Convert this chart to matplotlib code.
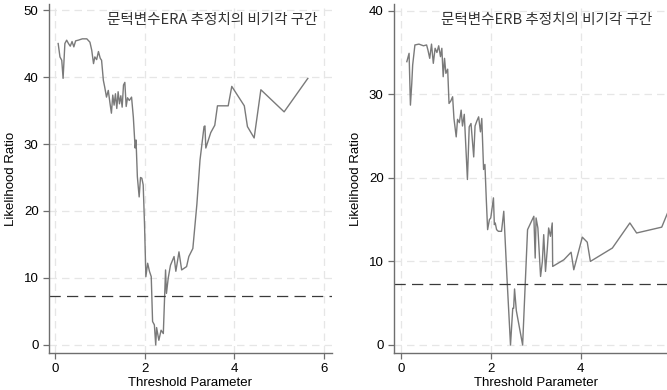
import matplotlib
matplotlib.use("Agg")
from matplotlib import pyplot as plt

plt.rcParams['font.family'] = ['Liberation Sans', 'DejaVu Sans']

# left panel: ERA
era_x = [0.06, 0.10, 0.14, 0.17, 0.21, 0.25, 0.29, 0.33, 0.37, 0.41, 0.45, 0.51,
         0.60, 0.70, 0.77, 0.81, 0.85, 0.88, 0.92, 0.96, 1.00, 1.03, 1.07, 1.10,
         1.14, 1.18, 1.22, 1.25, 1.28, 1.31, 1.34, 1.37, 1.40, 1.43, 1.46, 1.49,
         1.52, 1.55, 1.58, 1.61, 1.65, 1.70, 1.74, 1.78, 1.80, 1.83, 1.87, 1.90,
         1.93, 1.96, 1.99, 2.02, 2.06, 2.10, 2.14, 2.17, 2.21, 2.24, 2.26, 2.31,
         2.36, 2.41, 2.46, 2.48, 2.52, 2.57, 2.65, 2.69, 2.76, 2.82, 2.93, 2.98,
         3.07, 3.16, 3.23, 3.32, 3.34, 3.36, 3.47, 3.56, 3.62, 3.86, 3.94, 4.22,
         4.29, 4.44, 4.59, 5.11, 5.64]
era_lr = [45.0, 43.0, 42.5, 39.8, 45.0, 45.5, 45.0, 44.6, 45.3, 44.5, 45.4, 45.5,
          45.7, 45.7, 45.2, 44.0, 42.0, 43.0, 42.6, 43.8, 42.8, 42.5, 39.5, 38.5,
          37.0, 38.0, 36.0, 34.6, 37.3, 35.8, 37.5, 35.3, 37.8, 36.0, 37.2, 35.5,
          38.8, 39.2, 35.6, 36.9, 36.5, 37.0, 34.0, 29.4, 30.6, 25.1, 22.1, 25.0,
          24.9, 23.9, 18.0, 10.2, 12.2, 11.0, 10.2, 3.5, 3.0, 0.0, 2.6, 0.7,
          2.2, 1.7, 11.2, 7.7, 10.0, 11.9, 13.2, 11.0, 13.9, 11.2, 11.7, 13.2,
          14.4, 21.0, 27.6, 32.6, 32.7, 29.4, 31.7, 32.8, 35.7, 35.7, 38.6, 35.7,
          32.6, 30.9, 38.1, 34.8, 39.8]

# right panel: ERB
erb_x = [0.13, 0.18, 0.21, 0.24, 0.26, 0.31, 0.40, 0.50, 0.57, 0.60, 0.64, 0.68,
         0.72, 0.76, 0.80, 0.84, 0.88, 0.91, 0.94, 0.97, 1.00, 1.04, 1.07, 1.11,
         1.15, 1.18, 1.23, 1.26, 1.30, 1.34, 1.37, 1.41, 1.48, 1.52, 1.56, 1.62,
         1.65, 1.69, 1.73, 1.77, 1.80, 1.84, 1.87, 1.90, 1.93, 1.97, 2.00, 2.06,
         2.08, 2.10, 2.13, 2.17, 2.24, 2.29, 2.36, 2.44, 2.49, 2.51, 2.53, 2.57,
         2.71, 2.82, 2.96, 2.99, 3.01, 3.05, 3.11, 3.15, 3.18, 3.22, 3.26, 3.29,
         3.33, 3.37, 3.38, 3.63, 3.79, 3.85, 4.04, 4.15, 4.22, 4.71, 5.10, 5.25,
         5.81, 5.94, 6.10]
erb_lr = [33.9, 34.9, 28.7, 31.3, 33.5, 35.9, 36.0, 35.8, 35.9, 35.3, 34.3, 36.0,
          33.7, 35.5, 35.0, 35.8, 34.5, 35.5, 32.1, 34.3, 32.5, 33.0, 28.9, 29.2,
          29.7, 27.1, 24.9, 27.0, 26.6, 28.1, 26.2, 27.6, 19.8, 26.1, 26.5, 22.5,
          26.2, 26.8, 27.3, 25.5, 27.1, 21.0, 21.6, 17.5, 13.8, 15.0, 15.2, 17.6,
          14.4, 14.6, 13.8, 13.6, 13.6, 16.0, 8.2, 0.0, 4.4, 4.4, 6.7, 4.1,
          0.0, 13.8, 15.4, 10.4, 15.2, 14.0, 8.2, 10.0, 13.2, 8.8, 11.5, 14.0,
          13.0, 14.6, 9.4, 10.2, 11.1, 9.0, 12.9, 12.3, 10.0, 11.6, 14.6, 13.4,
          14.1, 15.8, 17.5]

crit = 7.35
titles = ['문턱변수ERA 추정치의 비기각 구간', '문턱변수ERB 추정치의 비기각 구간']
title_pos = [0.576, 0.539]

fig = plt.figure(figsize=(6.67, 3.9), dpi=100)
ax1 = fig.add_axes([49 / 667, 37 / 390, 283 / 667, 349 / 390])
ax2 = fig.add_axes([394 / 667, 37 / 390, 283 / 667, 349 / 390])

panels = [(ax1, era_x, era_lr, (-1.2, 50.9), [0, 10, 20, 30, 40, 50], (-0.145, 6.18)),
          (ax2, erb_x, erb_lr, (-0.96, 40.8), [0, 10, 20, 30, 40], (-0.156, 6.15))]

for i, (ax, x, y, ylim, yt, xlim) in enumerate(panels):
    ax.plot(x, y, color='#7a7a7a', linewidth=1.0)
    ax.axhline(crit, color='#3a3a3a', linewidth=0.9, linestyle=(0, (9, 5)))
    ax.set_xlim(*xlim)
    ax.set_ylim(*ylim)
    ax.set_xticks([0, 2, 4, 6])
    ax.set_yticks(yt)
    ax.grid(True, color='#e6e6e6', linestyle=(0, (6, 4)), linewidth=0.9)
    ax.set_axisbelow(True)
    for s in ['top', 'right']:
        ax.spines[s].set_visible(False)
    for s in ['left', 'bottom']:
        ax.spines[s].set_color('#6e6e6e')
        ax.spines[s].set_linewidth(1.0)
    ax.tick_params(colors='#6e6e6e', labelcolor='black', length=4, width=0.9,
                   labelsize=9.5)
    ax.set_xlabel('Threshold Parameter', fontsize=9.5, labelpad=1)
    ax.set_ylabel('Likelihood Ratio', fontsize=9.5, labelpad=5)
    ax.text(title_pos[i], 0.955, titles[i], transform=ax.transAxes,
            ha='center', va='center', fontsize=10.5, color='#333333',
            family=['Noto Sans CJK KR', 'Liberation Sans'])

fig.savefig('out.png', dpi=100)
